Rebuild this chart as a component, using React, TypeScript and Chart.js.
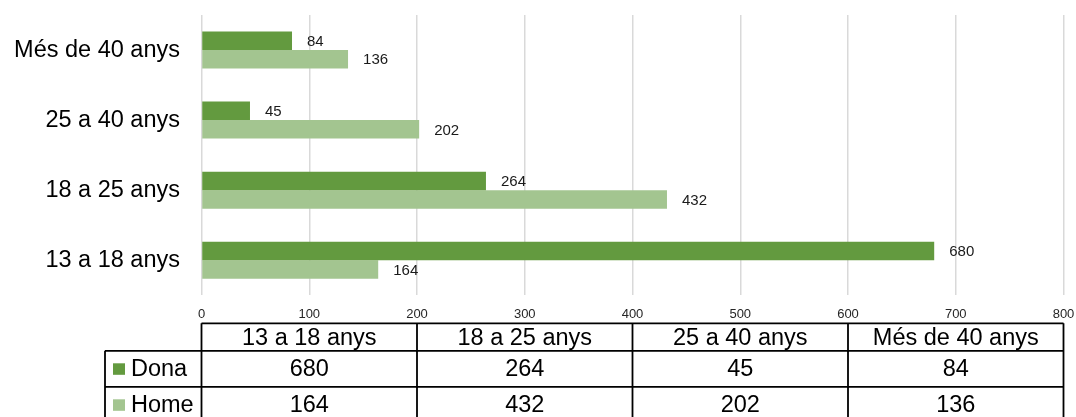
import React, { useEffect, useRef } from "react";
import { Chart, registerables } from "chart.js";

Chart.register(...registerables);

const categories = ["13 a 18 anys", "18 a 25 anys", "25 a 40 anys", "Més de 40 anys"];
const seriesNames = ["Dona", "Home"];
const donaValues = [680, 264, 45, 84];
const homeValues = [164, 432, 202, 136];
const seriesColors = ["#639a3f", "#a3c590"];
const xMax = 800;
const xStep = 100;

const FONT = "'Liberation Sans', Arial, sans-serif";

const dataLabelPlugin = {
  id: "dataLabels",
  afterDatasetsDraw(chart: any) {
    const ctx = chart.ctx;
    ctx.save();
    ctx.font = `15px ${FONT}`;
    ctx.fillStyle = "#1a1a1a";
    ctx.textAlign = "left";
    ctx.textBaseline = "middle";
    chart.data.datasets.forEach((ds: any, di: number) => {
      const meta = chart.getDatasetMeta(di);
      meta.data.forEach((el: any, i: number) => {
        ctx.fillText(String(ds.data[i]), el.x + 15, el.y + 1);
      });
    });
    ctx.restore();
  },
};

const dataTablePlugin = {
  id: "dataTable",
  afterDraw(chart: any) {
    const ctx = chart.ctx;
    const area = chart.chartArea;
    const left = area.left;
    const right = area.right;
    const colW = (right - left) / categories.length;
    const top = area.bottom + 28;
    const headerH = 27.5;
    const rowH = 36;
    const legendLeft = 105;
    const bottom = top + headerH + rowH * 2 + 10;
    ctx.save();
    ctx.strokeStyle = "#000";
    ctx.lineWidth = 1.8;
    ctx.beginPath();
    ctx.moveTo(left, top);
    ctx.lineTo(right, top);
    for (let r = 0; r < 2; r++) {
      const y = top + headerH + rowH * r;
      ctx.moveTo(legendLeft, y);
      ctx.lineTo(right, y);
    }
    for (let c = 0; c <= categories.length; c++) {
      const x = left + colW * c;
      ctx.moveTo(x, top);
      ctx.lineTo(x, bottom);
    }
    ctx.moveTo(legendLeft, top + headerH);
    ctx.lineTo(legendLeft, bottom);
    ctx.stroke();

    ctx.fillStyle = "#000";
    ctx.font = `23.5px ${FONT}`;
    ctx.textAlign = "center";
    ctx.textBaseline = "middle";
    categories.forEach((c, i) => {
      ctx.fillText(c, left + colW * (i + 0.5), top + headerH / 2 + 1);
    });
    const rows = [donaValues, homeValues];
    rows.forEach((vals, r) => {
      const cy = top + headerH + rowH * r + rowH / 2 + 1;
      ctx.textAlign = "center";
      ctx.fillStyle = "#000";
      vals.forEach((v, i) => {
        ctx.fillText(String(v), left + colW * (i + 0.5), cy);
      });
      ctx.fillStyle = seriesColors[r];
      ctx.fillRect(113, cy - 6.5, 12, 11.5);
      ctx.fillStyle = "#000";
      ctx.textAlign = "left";
      ctx.fillText(seriesNames[r], 131, cy);
    });
    ctx.restore();
  },
};

function zeroPadding(scale: any) {
  scale.paddingTop = 0;
  scale.paddingBottom = 0;
  scale.paddingLeft = 0;
  scale.paddingRight = 0;
}

export default function App() {
  const ref = useRef<HTMLCanvasElement>(null);
  useEffect(() => {
    document.body.style.margin = "0";
    const chart = new Chart(ref.current as HTMLCanvasElement, {
      type: "bar",
      data: {
        labels: categories,
        datasets: [
          {
            label: seriesNames[0],
            data: donaValues,
            backgroundColor: seriesColors[0],
            borderWidth: 0,
          },
          {
            label: seriesNames[1],
            data: homeValues,
            backgroundColor: seriesColors[1],
            borderWidth: 0,
          },
        ],
      },
      options: {
        indexAxis: "y",
        responsive: false,
        animation: false,
        devicePixelRatio: 1,
        layout: { padding: { top: 15, right: 12.5, bottom: 93.7, left: 0 } },
        datasets: {
          bar: { categoryPercentage: 0.528, barPercentage: 1 },
        },
        plugins: {
          legend: { display: false },
          tooltip: { enabled: false },
        },
        scales: {
          x: {
            min: 0,
            max: xMax,
            ticks: {
              stepSize: xStep,
              padding: 11,
              color: "#262626",
              font: { family: FONT, size: 13 },
            },
            grid: { color: "#d9d9d9", lineWidth: 1.5, drawTicks: false },
            border: { display: false },
            afterFit(scale: any) {
              scale.height = 28;
              zeroPadding(scale);
            },
          },
          y: {
            reverse: true,
            ticks: {
              padding: 21.5,
              color: "#000",
              font: { family: FONT, size: 23.5 },
            },
            grid: { display: false, drawTicks: false },
            border: { display: false },
            afterFit(scale: any) {
              scale.width = 201.5;
              zeroPadding(scale);
            },
          },
        },
      },
      plugins: [dataLabelPlugin, dataTablePlugin],
    });
    return () => chart.destroy();
  }, []);
  return (
    <div style={{ position: "fixed", left: 0, top: 0, width: 1076, height: 417, background: "#fff" }}>
      <canvas ref={ref} width={1076} height={417} />
    </div>
  );
}
